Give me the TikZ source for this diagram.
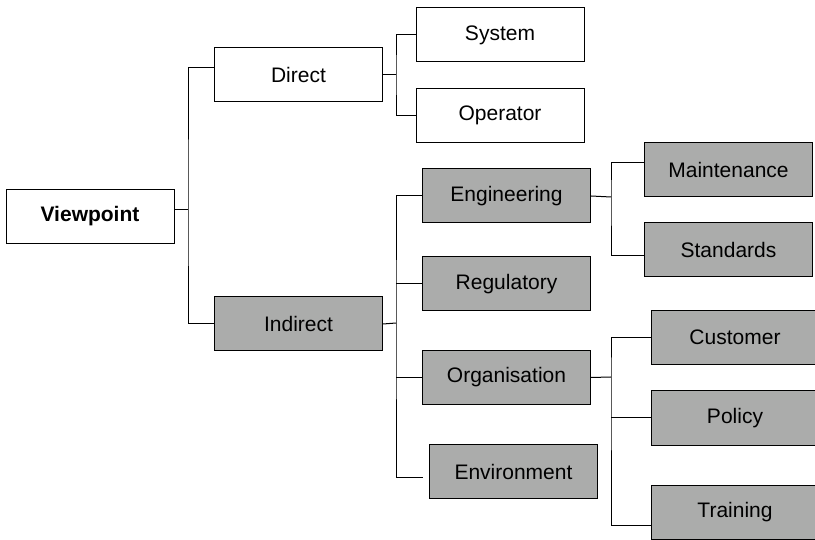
\documentclass[tikz,border=0pt]{standalone}
\usepackage{fontspec}
\setmainfont{Liberation Sans}
\usetikzlibrary{positioning}
\definecolor{boxgrey}{RGB}{171,172,171}
\tikzset{
    box/.style={draw,line width=1pt,minimum width=168pt,minimum height=54pt,inner sep=0pt,font=\fontsize{21}{25}\selectfont},
    greybox/.style={box,fill=boxgrey},
    link/.style={line width=1pt}
}
\begin{document}
\begin{tikzpicture}[x=1pt,y=-1pt]
    \useasboundingbox (0,0) rectangle (815,540);
    % levels of the tree
    \node[box,font=\fontsize{21}{25}\selectfont\bfseries] (view) at (90,216.5) {Viewpoint};
    \node[box] (direct) at (298.5,75) {Direct};
    \node[greybox] (indirect) at (298.5,324) {Indirect};
    \node[box] (system) at (500,35) {System};
    \node[box] (operator) at (500,115.5) {Operator};
    \node[greybox] (engineering) at (506.5,196) {Engineering};
    \node[greybox] (regulatory) at (506.5,284) {Regulatory};
    \node[greybox] (organisation) at (506.5,377.5) {Organisation};
    \node[greybox] (environment) at (513.5,471.5) {Environment};
    \node[greybox] (maintenance) at (728.5,169.5) {Maintenance};
    \node[greybox] (standards) at (728.5,250) {Standards};
    \node[greybox] (customer) at (735,337.5) {Customer};
    \node[greybox] (policy) at (735,418) {Policy};
    \node[greybox] (training) at (735,512) {Training};
    % junctions
    \coordinate (j1) at (188,210);
    \coordinate (j2) at (396,75);
    \coordinate (j3) at (396,323);
    \coordinate (j4) at (611,197);
    \coordinate (j5) at (611,377);
    \coordinate (envend) at ([xshift=-6pt,yshift=-5.5pt]environment.west);
    % connectors
    \draw[link] (view.east |- j1) -- (j1);
    \draw[link] ([yshift=7pt]direct.west) -| (j1) |- (indirect.west);
    \draw[link] (direct.east) -- (j2);
    \draw[link] (system.west) -| (j2) |- (operator.west);
    \draw[link] (indirect.east) -- (j3);
    \draw[link] (engineering.west) -| (j3) |- (envend);
    \draw[link] (regulatory.west) -- (j3 |- regulatory.west);
    \draw[link] (organisation.west) -- (j3 |- organisation.west);
    \draw[link] (engineering.east) -- (j4);
    \draw[link] ([yshift=6.5pt]maintenance.west) -| (j4) |- ([yshift=-6pt]standards.west);
    \draw[link] (organisation.east) -- (j5);
    \draw[link] (customer.west) -| (j5) |- ([yshift=-13pt]training.west);
    \draw[link] (policy.west) -- (j5 |- policy.west);
\end{tikzpicture}
\end{document}
